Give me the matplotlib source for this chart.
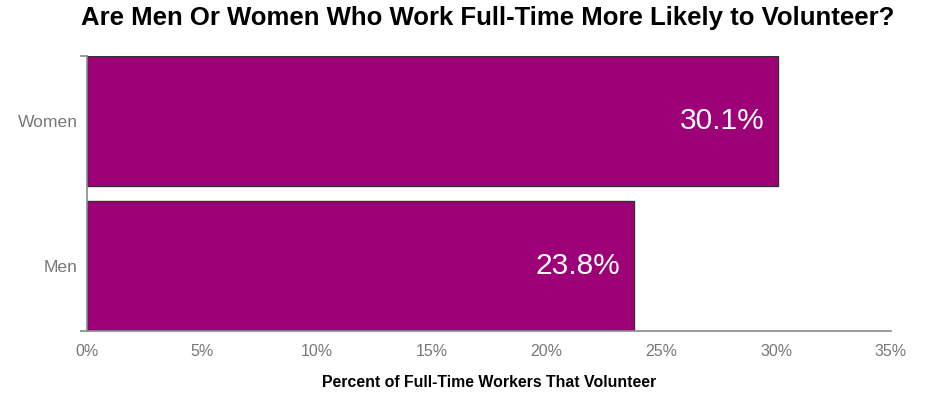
import matplotlib.pyplot as plt
import numpy as np

# data
categories = ['Men', 'Women']
values = [23.8, 30.1]
x_ticks = [0, 5, 10, 15, 20, 25, 30, 35]

plt.rcParams['font.family'] = ['Liberation Sans', 'DejaVu Sans']

bar_color = '#9e0077'
axis_gray = '#8a8a8a'
label_gray = '#777777'

fig = plt.figure(figsize=(9.33, 3.97), dpi=100)
ax = fig.add_axes([87 / 933, 1 - 331 / 397, (891 - 87) / 933, (331 - 56) / 397])

h = 0.897
y = np.arange(len(categories))
bars = ax.barh(y, values, height=h, color=bar_color, edgecolor='#333333', linewidth=1)

for b, v in zip(bars, values):
    ax.text(b.get_width() - 0.6, b.get_y() + b.get_height() / 2, f'{v:.1f}%',
            ha='right', va='center', color='white', fontsize=21.5)

ax.set_xlim(0, 35)
ax.set_ylim(-h / 2, len(categories) - 1 + h / 2)

ax.set_xticks(x_ticks)
ax.set_xticklabels([f'{t}%' for t in x_ticks])
ax.set_yticks(y)
ax.set_yticklabels(categories)
ax.tick_params(axis='x', length=0, pad=9, labelsize=11.5, labelcolor=label_gray)
ax.tick_params(axis='y', length=0, pad=6.5, labelsize=12.6, labelcolor=label_gray)

# outer ticks at the ends of each axis
ax.set_xticks(ax.get_xlim(), minor=True)
ax.set_yticks(ax.get_ylim(), minor=True)
ax.tick_params(which='minor', length=5, width=1.2, color=axis_gray)

for s in ['top', 'right']:
    ax.spines[s].set_visible(False)
for s in ['left', 'bottom']:
    ax.spines[s].set_color(axis_gray)
    ax.spines[s].set_linewidth(1.2)

ax.set_xlabel('Percent of Full-Time Workers That Volunteer', fontsize=11.4,
              fontweight='bold', labelpad=12)
fig.suptitle('Are Men Or Women Who Work Full-Time More Likely to Volunteer?',
             fontsize=18.5, fontweight='bold', x=488 / 933, y=1 - 6 / 397, va='top')

fig.savefig('out.png', dpi=100)
